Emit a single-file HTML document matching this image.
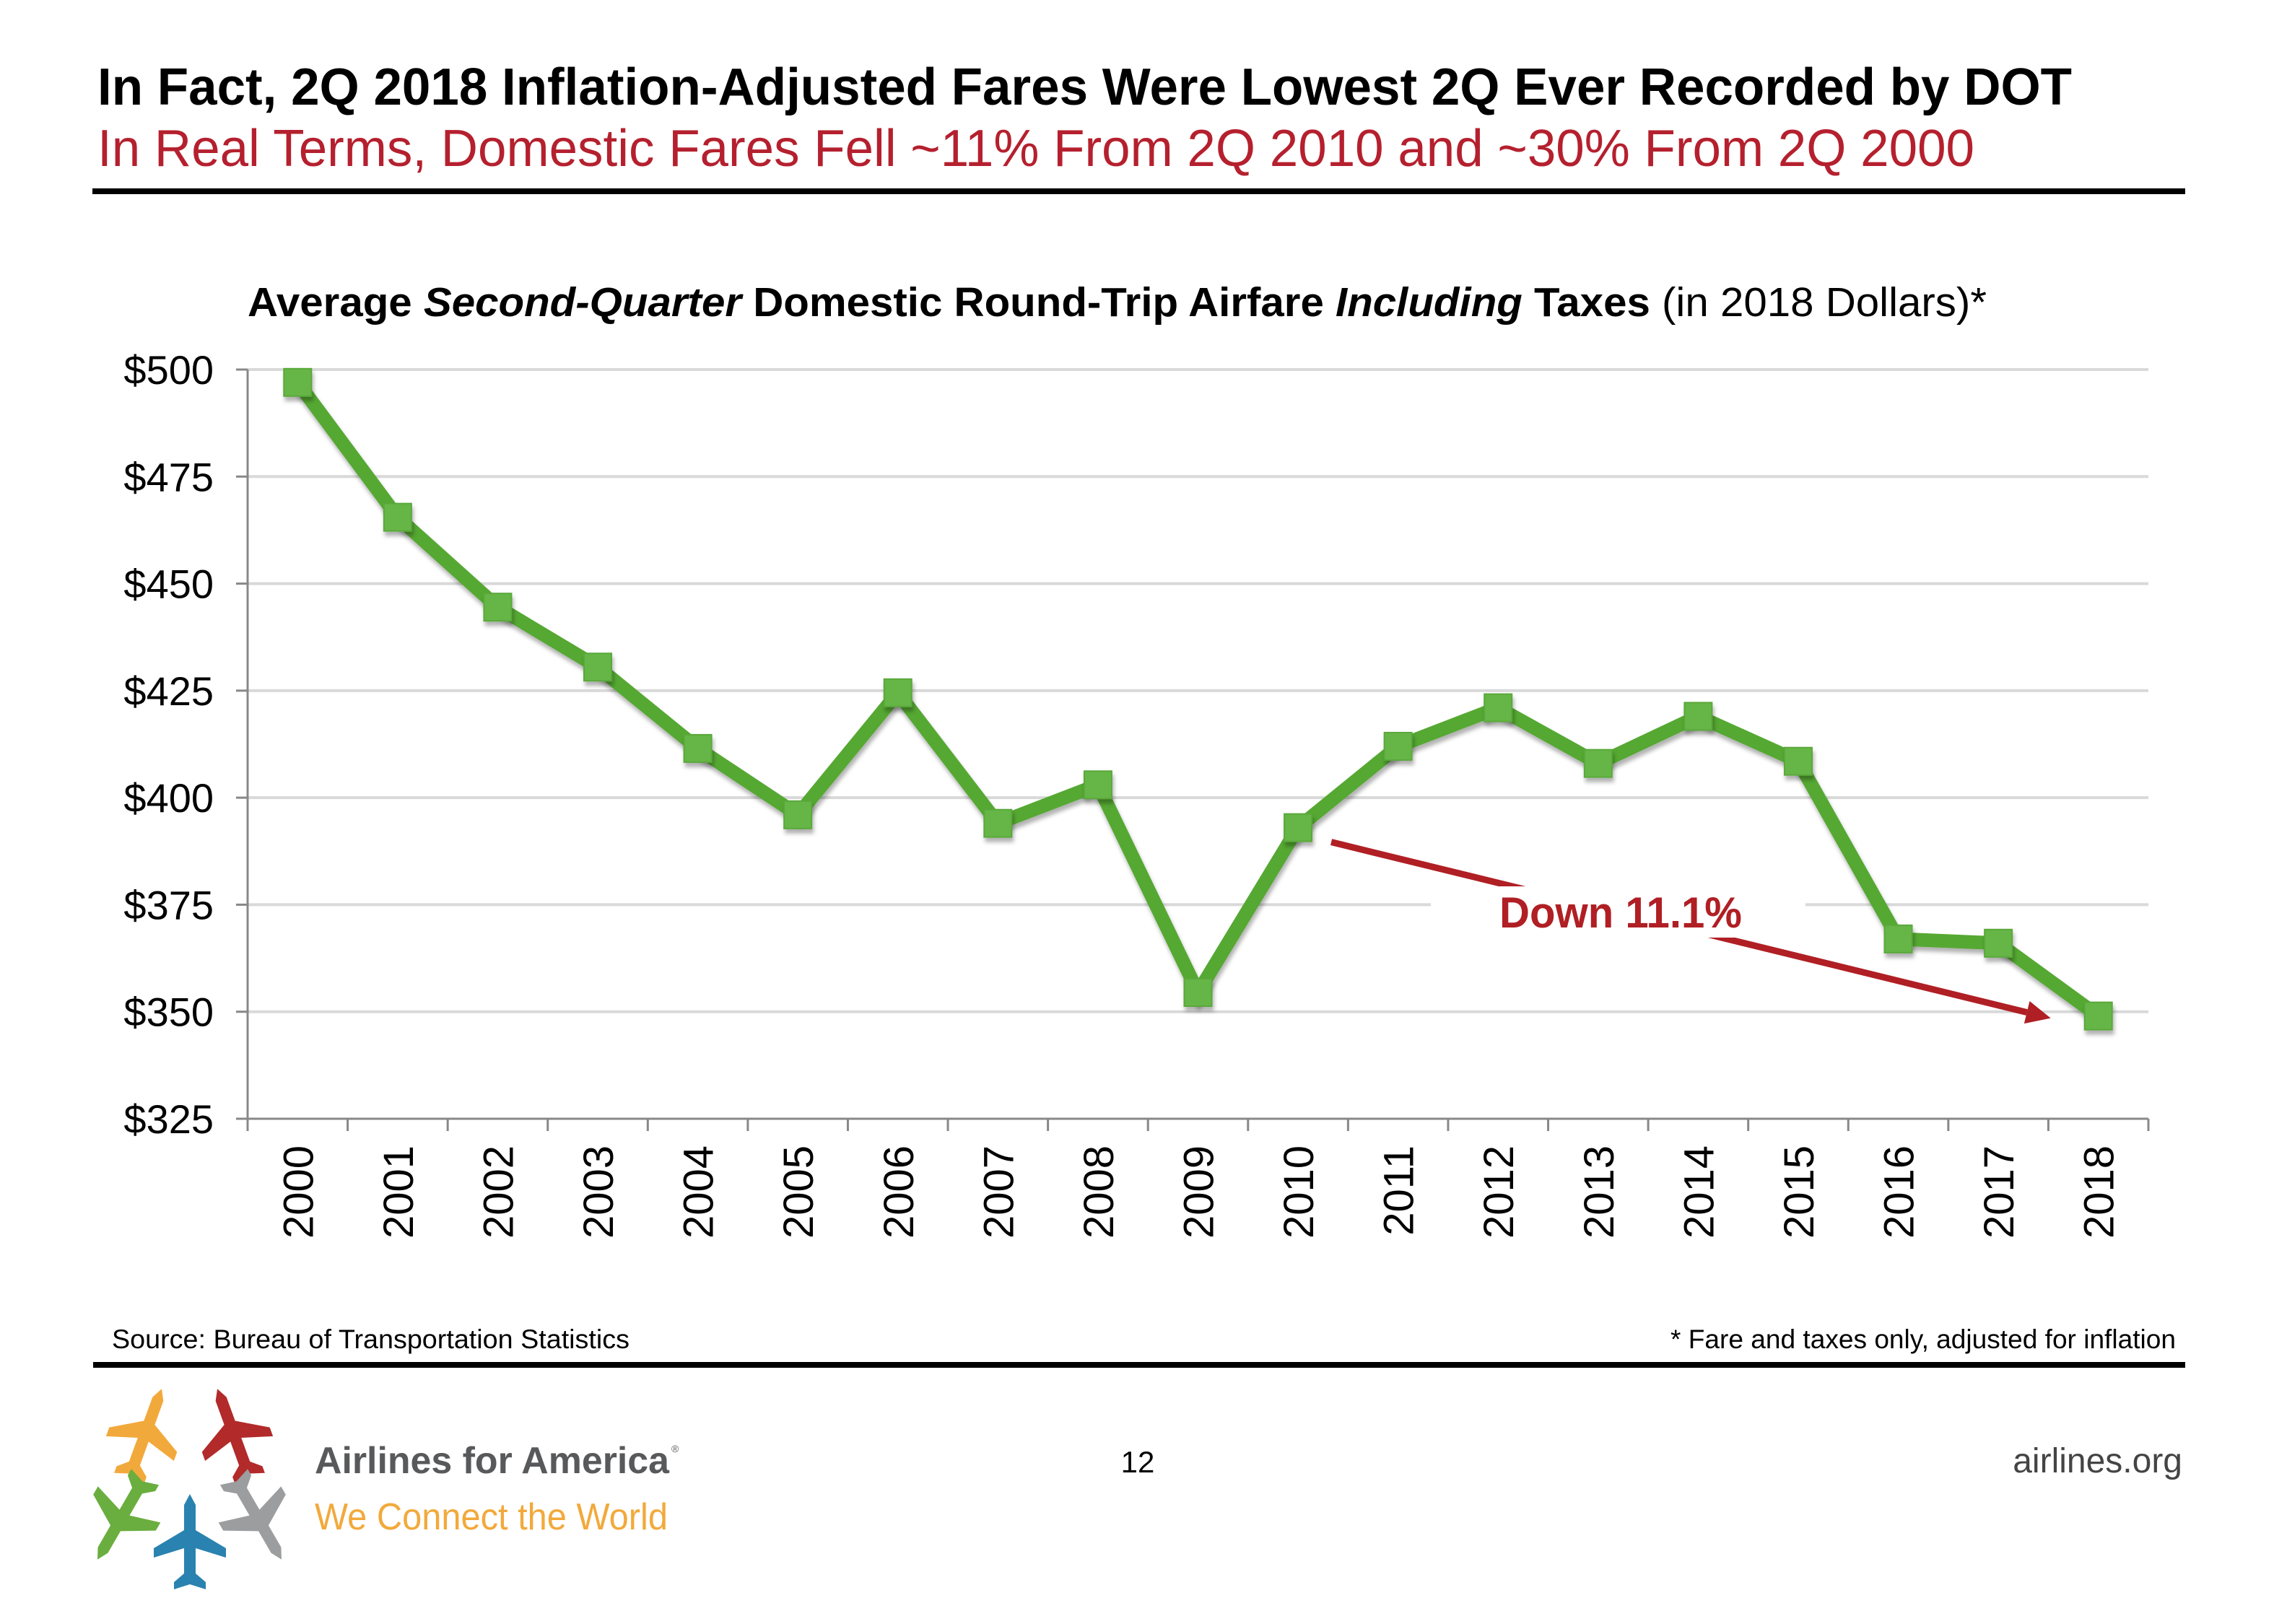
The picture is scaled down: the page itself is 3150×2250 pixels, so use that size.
<!DOCTYPE html>
<html><head><meta charset="utf-8"><style>
html,body{margin:0;padding:0;background:#fff;}
svg{display:block;font-family:"Liberation Sans",Arial,sans-serif;}
</style></head>
<body>
<svg id="chart" width="3150" height="2250" viewBox="0 0 3150 2250" xmlns="http://www.w3.org/2000/svg">
  <defs>
    <filter id="sh" x="-50%" y="-50%" width="200%" height="200%"><feDropShadow dx="2" dy="6" stdDeviation="3" flood-color="#000" flood-opacity="0.3"/></filter>
  </defs>
  <text x="135" y="145" font-size="72" font-weight="bold" fill="#000" textLength="2735" lengthAdjust="spacingAndGlyphs">In Fact, 2Q 2018 Inflation-Adjusted Fares Were Lowest 2Q Ever Recorded by DOT</text>
  <text x="135" y="230" font-size="72" fill="#b5202e" textLength="2600" lengthAdjust="spacingAndGlyphs">In Real Terms, Domestic Fares Fell ~11% From 2Q 2010 and ~30% From 2Q 2000</text>
  <rect x="128" y="261" width="2899" height="8" fill="#000"/>

  <text x="343" y="438" font-size="57" fill="#000" textLength="2409" lengthAdjust="spacingAndGlyphs"><tspan font-weight="bold">Average </tspan><tspan font-weight="bold" font-style="italic">Second-Quarter</tspan><tspan font-weight="bold"> Domestic Round-Trip Airfare </tspan><tspan font-weight="bold" font-style="italic">Including</tspan><tspan font-weight="bold"> Taxes</tspan> (in 2018 Dollars)*</text>

  <g id="grid"></g>
  <g id="axes"></g>
  <g id="annot"></g>
  <g id="series"></g>

  <text x="155" y="1868" font-size="37" fill="#000" textLength="717" lengthAdjust="spacingAndGlyphs">Source: Bureau of Transportation Statistics</text>
  <text x="3014" y="1868" font-size="37" fill="#000" text-anchor="end" textLength="700" lengthAdjust="spacingAndGlyphs">* Fare and taxes only, adjusted for inflation</text>
  <rect x="129" y="1887" width="2898" height="8" fill="#000"/>

  <g>
    <g transform="translate(200,1990) rotate(20)"><path d="M0,-70 L8,-55 L8,-20 L50,5 L50,18 L8,5 L8,40 L22,52 L22,62 L0,55 L-22,62 L-22,52 L-8,40 L-8,5 L-50,18 L-50,5 L-8,-20 L-8,-55 Z" fill="#f2a93b"/></g>
    <g transform="translate(325,1990) rotate(-20)"><path d="M0,-70 L8,-55 L8,-20 L50,5 L50,18 L8,5 L8,40 L22,52 L22,62 L0,55 L-22,62 L-22,52 L-8,40 L-8,5 L-50,18 L-50,5 L-8,-20 L-8,-55 Z" fill="#b22a2a"/></g>
    <g transform="translate(170,2100) rotate(-150)"><path d="M0,-70 L8,-55 L8,-20 L50,5 L50,18 L8,5 L8,40 L22,52 L22,62 L0,55 L-22,62 L-22,52 L-8,40 L-8,5 L-50,18 L-50,5 L-8,-20 L-8,-55 Z" fill="#6aae3f"/></g>
    <g transform="translate(355,2100) rotate(150)"><path d="M0,-70 L8,-55 L8,-20 L50,5 L50,18 L8,5 L8,40 L22,52 L22,62 L0,55 L-22,62 L-22,52 L-8,40 L-8,5 L-50,18 L-50,5 L-8,-20 L-8,-55 Z" fill="#9c9d9f"/></g>
    <g transform="translate(263,2140)"><path d="M0,-70 L8,-55 L8,-20 L50,5 L50,18 L8,5 L8,40 L22,52 L22,62 L0,55 L-22,62 L-22,52 L-8,40 L-8,5 L-50,18 L-50,5 L-8,-20 L-8,-55 Z" fill="#2a82b0"/></g>
  </g>
  <text x="436" y="2041" font-size="52" font-weight="bold" fill="#58595b" textLength="491" lengthAdjust="spacingAndGlyphs">Airlines for America</text>
  <text x="930" y="2012" font-size="14" fill="#58595b">®</text>
  <text x="436" y="2119" font-size="52" fill="#f2a93b" textLength="489" lengthAdjust="spacingAndGlyphs">We Connect the World</text>
  <text x="1576" y="2040" font-size="42" fill="#000" text-anchor="middle">12</text>
  <text x="3023" y="2040" font-size="48" fill="#444" text-anchor="end">airlines.org</text>
</svg>
<script>
const years = ["2000","2001","2002","2003","2004","2005","2006","2007","2008","2009","2010","2011","2012","2013","2014","2015","2016","2017","2018"];
const fares = [497,465.5,444.5,430.5,411.5,396,424.5,394,403,354.5,393,412,421,408,419,408.5,367,366,349];
const yTicks = [325,350,375,400,425,450,475,500];
const yTickLabels = ["$325","$350","$375","$400","$425","$450","$475","$500"];
const annotFrom = 10, annotTo = 18;
const annotLabel = "Down 11.1%";

const NS = "http://www.w3.org/2000/svg";
const X0 = 343, X1 = 2976, Y0 = 1550, Y1 = 512, VMIN = 325, VMAX = 500;
const band = (X1 - X0) / years.length;
function xPos(i){ return X0 + band * (i + 0.5); }
function yPos(v){ return Y0 - (v - VMIN) / (VMAX - VMIN) * (Y0 - Y1); }
function mk(tag, attrs, parent){
  const e = document.createElementNS(NS, tag);
  for (const k in attrs) e.setAttribute(k, attrs[k]);
  parent.appendChild(e);
  return e;
}
const grid = document.getElementById("grid");
const axes = document.getElementById("axes");
const series = document.getElementById("series");
const annot = document.getElementById("annot");

yTicks.forEach((v, i) => {
  const y = yPos(v);
  if (i > 0) {
    const g = mk("line", {x1: X0, x2: X1, y1: y, y2: y, stroke: "#d9d9d9", "stroke-width": 4}, grid);
    
    
  }
  const tk = mk("line", {x1: X0 - 16, x2: X0, y1: y, y2: y, stroke: "#888", "stroke-width": 3}, axes);
  
  
  const t = mk("text", {x: 296, y: y + 20, "font-size": 56, "text-anchor": "end", fill: "#000"}, axes);
  t.textContent = yTickLabels[i];
  
  
});
const ya = mk("line", {x1: X0, x2: X0, y1: Y1, y2: Y0, stroke: "#888", "stroke-width": 3}, axes);


const xa = mk("line", {x1: X0 - 16, x2: X1, y1: Y0, y2: Y0, stroke: "#888", "stroke-width": 3}, axes);


for (let i = 0; i <= years.length; i++) {
  const x = X0 + band * i;
  const tk = mk("line", {x1: x, x2: x, y1: Y0, y2: Y0 + 17, stroke: "#888", "stroke-width": 3}, axes);
  
  
}
years.forEach((yr, i) => {
  const x = xPos(i) + 21, y = 1587;
  const t = mk("text", {x: x, y: y, "font-size": 58, "text-anchor": "end", fill: "#000", transform: `rotate(-90 ${x} ${y})`}, axes);
  t.textContent = yr;
  
  
});

const ax1 = xPos(annotFrom) + 46, ay1 = yPos(fares[annotFrom]) + 20;
const ax2 = xPos(annotTo) - 66, ay2 = yPos(fares[annotTo]) + 3;
const ang = Math.atan2(ay2 - ay1, ax2 - ax1);
const hx = ax2 - 34 * Math.cos(ang), hy = ay2 - 34 * Math.sin(ang);
const al = mk("line", {x1: ax1, y1: ay1, x2: hx, y2: hy, stroke: "#b01f24", "stroke-width": 9}, annot);


const px = -Math.sin(ang) * 16, py = Math.cos(ang) * 16;
const ah = mk("polygon", {points: `${ax2},${ay2} ${hx+px},${hy+py} ${hx-px},${hy-py}`, fill: "#b01f24"}, annot);


const box = mk("rect", {x: 1982, y: 1228, width: 519, height: 71, fill: "#fff"}, annot);


const at = mk("text", {x: 2077, y: 1285, "font-size": 60, "font-weight": "bold", fill: "#b01f24", textLength: 336, lengthAdjust: "spacingAndGlyphs"}, annot);
at.textContent = annotLabel;



const pts = fares.map((v, i) => `${xPos(i)},${yPos(v)}`).join(" ");
const pl = mk("polyline", {points: pts, fill: "none", stroke: "#55a832", "stroke-width": 19, "stroke-linejoin": "miter", filter: "url(#sh)"}, series);


fares.forEach((v, i) => {
  const r = mk("rect", {x: xPos(i) - 19, y: yPos(v) - 19, width: 38, height: 38, fill: "#66b646", stroke: "#5aa83a", "stroke-width": 2, filter: "url(#sh)"}, series);
  
  
});
</script>
</body></html>
